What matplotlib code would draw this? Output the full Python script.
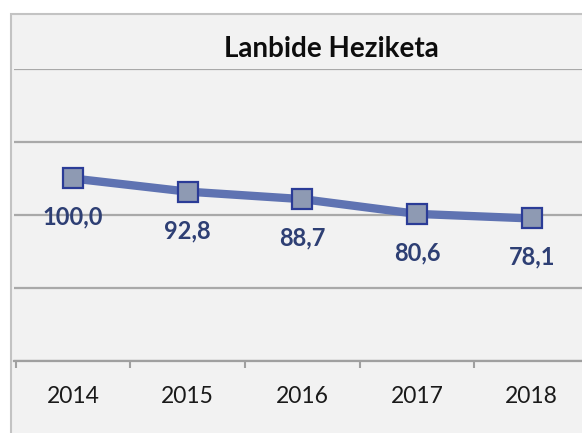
import matplotlib
matplotlib.use('Agg')
import matplotlib.pyplot as plt
from matplotlib.patches import Rectangle

years = ['2014', '2015', '2016', '2017', '2018']
values = [100.0, 92.8, 88.7, 80.6, 78.1]
labels = ['100,0', '92,8', '88,7', '80,6', '78,1']
title = 'Lanbide Heziketa'

W, H = 582, 433
plt.rcParams['font.family'] = ['Lato', 'DejaVu Sans']
fig = plt.figure(figsize=(W / 100, H / 100), dpi=100)

# chart area frame (cropped excel chart)
frame = Rectangle((11 / W, -0.1), 1.2, 1 - 14 / H + 0.1, transform=fig.transFigure,
                  facecolor='#f2f2f2', edgecolor='#c3c3c3', linewidth=1.5, zorder=-10)
fig.patches.append(frame)

left, right = 14, 601
bottom, top = 361, 69
step, first = 114.7, 73
pos = [left / W, 1 - bottom / H, (right - left) / W, (bottom - top) / H]
ax = fig.add_axes(pos)
ax.set_facecolor('none')
ax.set_xlim((left - first) / step, (right - first) / step)
ax.set_ylim(0, 160)
ax.set_yticks([0, 40, 80, 120, 160])
ax.set_yticklabels([])
ax.tick_params(axis='y', length=0)
ax.grid(axis='y', color='#a9a9a9', linewidth=1.6)
ax.set_axisbelow(True)
for s in ['top', 'right', 'left']:
    ax.spines[s].set_visible(False)
ax.spines['bottom'].set_color('#a0a0a0')
ax.spines['bottom'].set_linewidth(1.6)

xs = list(range(len(years)))
ax.set_xticks(xs)
ax.set_xticklabels(years, fontsize=16.5, color='#1a1a1a')
ax.tick_params(axis='x', which='major', length=0, pad=18)
ax.set_xticks([i - 0.5 for i in range(len(years) + 1)], minor=True)
ax.tick_params(axis='x', which='minor', length=5, width=1.5, color='#a0a0a0')

ax.plot(xs, values, color='#5f73b2', linewidth=6, solid_capstyle='butt', zorder=3,
        marker='s', markersize=15, markerfacecolor='#8e9ab3', markeredgecolor='#2b3c97',
        markeredgewidth=1.6)
for x, v, t in zip(xs, values, labels):
    ax.annotate(t, (x, v), xytext=(0, -28), textcoords='offset points', ha='center',
                va='center', fontsize=17, fontweight='bold', color='#2e3f74')

fig.text(331 / W, 1 - 49 / H, title, ha='center', va='center', fontsize=20,
         fontweight='bold', color='#0d0d0d')

fig.savefig('out.png', dpi=100)
